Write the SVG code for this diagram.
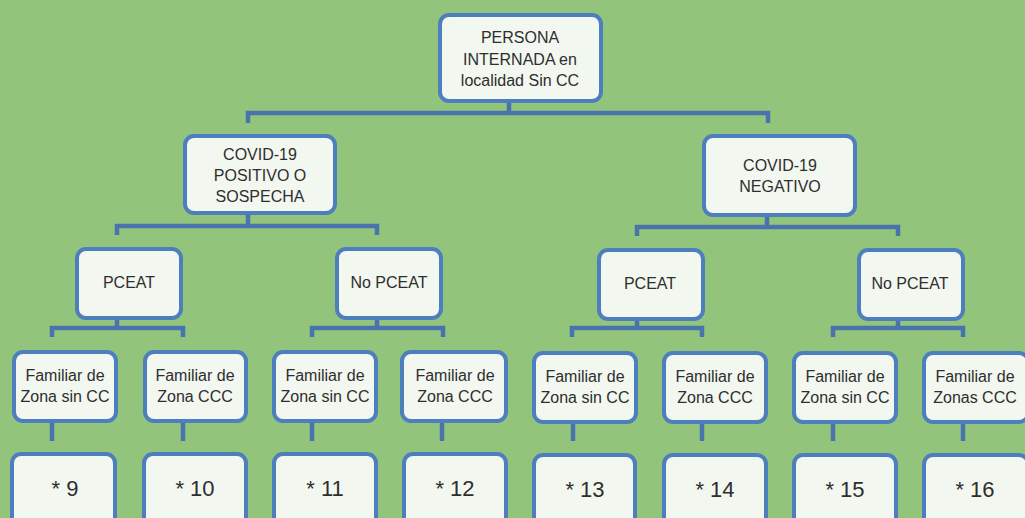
<svg xmlns="http://www.w3.org/2000/svg" width="1025" height="518" viewBox="0 0 1025 518">
<style>
.box{fill:#f2f7f0;stroke:#4d7fbf;stroke-width:4}
.t{font-family:"Liberation Sans",Arial,sans-serif;font-size:16px;fill:#2e2e2e;text-anchor:middle}
.n{font-family:"Liberation Sans",Arial,sans-serif;font-size:22px;fill:#2e2e2e;text-anchor:middle}
.c{fill:none;stroke:#4873ac;stroke-width:4.5;stroke-linejoin:miter}
</style>
<rect x="0" y="0" width="1025" height="518" fill="#92c47c"/>
<g id="connectors">
<path class="c" d="M509 103V113M248 123V113H768V123"/>
<path class="c" d="M248 214V226M117 235V226H377V235"/>
<path class="c" d="M767 216V227M637 236V227H898V236"/>
<path class="c" d="M117 318V328M52 337V328H183V337"/>
<path class="c" d="M377 318V328M312 337V328H443V337"/>
<path class="c" d="M637 319V328M572 337V328H702V337"/>
<path class="c" d="M898 319V328M833 337V328H963V337"/>
<path class="c" d="M52 421V441M183 421V441M312 421V441M442 421V441M573 421V441M702 421V441M833 421V441M963 421V441"/>
</g>
<g id="root"><rect class="box" x="440" y="15" width="161" height="86" rx="9"/>
<text class="t" x="520" y="43">PERSONA</text><text class="t" x="520" y="65">INTERNADA en</text><text class="t" x="520" y="86">localidad Sin CC</text></g>
<g id="covid-pos"><rect class="box" x="185" y="136" width="150" height="77" rx="9"/>
<text class="t" x="260" y="160">COVID-19</text><text class="t" x="260" y="181">POSITIVO O</text><text class="t" x="260" y="202">SOSPECHA</text></g>
<g id="covid-neg"><rect class="box" x="704" y="136" width="151" height="79" rx="9"/>
<text class="t" x="780" y="171">COVID-19</text><text class="t" x="780" y="192">NEGATIVO</text></g>
<g id="pceat-l"><rect class="box" x="77" y="249" width="104" height="69" rx="9"/><text class="t" x="129" y="288">PCEAT</text></g>
<g id="nopceat-l"><rect class="box" x="337" y="249" width="104" height="69" rx="9"/><text class="t" x="389" y="288">No PCEAT</text></g>
<g id="pceat-r"><rect class="box" x="599" y="250" width="104" height="69" rx="9"/><text class="t" x="650" y="289">PCEAT</text></g>
<g id="nopceat-r"><rect class="box" x="859" y="250" width="104" height="69" rx="9"/><text class="t" x="910" y="289">No PCEAT</text></g>
<g id="fam1"><rect class="box" x="14" y="352" width="102" height="69" rx="9"/><text class="t" x="65" y="381">Familiar de</text><text class="t" x="65" y="402">Zona sin CC</text></g>
<g id="fam2"><rect class="box" x="145" y="352" width="101" height="69" rx="9"/><text class="t" x="195" y="381">Familiar de</text><text class="t" x="195" y="402">Zona CCC</text></g>
<g id="fam3"><rect class="box" x="274" y="352" width="102" height="69" rx="9"/><text class="t" x="325" y="381">Familiar de</text><text class="t" x="325" y="402">Zona sin CC</text></g>
<g id="fam4"><rect class="box" x="402" y="352" width="104" height="69" rx="9"/><text class="t" x="455" y="381">Familiar de</text><text class="t" x="455" y="402">Zona CCC</text></g>
<g id="fam5"><rect class="box" x="534" y="353" width="102" height="69" rx="9"/><text class="t" x="585" y="382">Familiar de</text><text class="t" x="585" y="403">Zona sin CC</text></g>
<g id="fam6"><rect class="box" x="664" y="353" width="102" height="69" rx="9"/><text class="t" x="715" y="382">Familiar de</text><text class="t" x="715" y="403">Zona CCC</text></g>
<g id="fam7"><rect class="box" x="794" y="353" width="102" height="69" rx="9"/><text class="t" x="845" y="382">Familiar de</text><text class="t" x="845" y="403">Zona sin CC</text></g>
<g id="fam8"><rect class="box" x="924" y="353" width="104" height="69" rx="9"/><text class="t" x="975" y="382">Familiar de</text><text class="t" x="975" y="403">Zonas CCC</text></g>
<g id="r9"><rect class="box" x="12" y="454" width="103" height="80" rx="9"/><text class="n" x="65" y="496">* 9</text></g>
<g id="r10"><rect class="box" x="144" y="454" width="102" height="80" rx="9"/><text class="n" x="195" y="496">* 10</text></g>
<g id="r11"><rect class="box" x="274" y="454" width="102" height="80" rx="9"/><text class="n" x="325" y="496">* 11</text></g>
<g id="r12"><rect class="box" x="404" y="454" width="102" height="80" rx="9"/><text class="n" x="455" y="496">* 12</text></g>
<g id="r13"><rect class="box" x="534" y="455" width="101" height="80" rx="9"/><text class="n" x="585" y="497">* 13</text></g>
<g id="r14"><rect class="box" x="664" y="455" width="102" height="80" rx="9"/><text class="n" x="715" y="497">* 14</text></g>
<g id="r15"><rect class="box" x="794" y="455" width="102" height="80" rx="9"/><text class="n" x="845" y="497">* 15</text></g>
<g id="r16"><rect class="box" x="924" y="455" width="104" height="80" rx="9"/><text class="n" x="975" y="497">* 16</text></g>
</svg>
